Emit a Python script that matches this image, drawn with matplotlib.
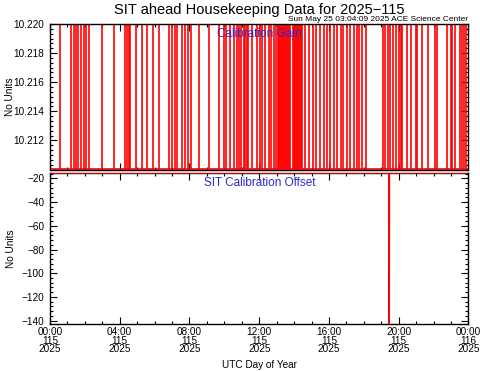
import matplotlib
matplotlib.use('Agg')
import matplotlib.pyplot as plt
from matplotlib.ticker import MultipleLocator, AutoMinorLocator, FixedLocator

plt.rcParams['font.family'] = ['Liberation Sans', 'DejaVu Sans']

# ---------------- data ----------------
# hours (UTC, day 115) at which the calibration gain toggles to its high value
gain_spike_hours = [
    0.545, 1.205, 1.348, 1.492, 1.606, 1.779, 1.922, 2.065, 2.255, 2.966,
    3.643, 4.291, 4.389, 4.504, 4.590, 4.905, 5.278, 5.565, 5.881, 6.271,
    6.845, 6.971, 7.143, 7.269, 7.573, 7.728, 7.900, 8.061, 8.520, 9.094,
    9.696, 9.954, 10.069, 10.327, 10.528, 10.700, 10.815, 10.930, 11.102,
    11.188, 11.274, 11.360, 11.561, 11.848, 12.048, 12.163, 12.335, 12.536,
    12.651, 12.851, 12.966, 13.052, 13.110, 13.167, 13.224, 13.282, 13.339,
    13.396, 13.454, 13.511, 13.568, 13.626, 13.683, 13.741, 13.913, 13.970,
    14.028, 14.085, 14.142, 14.200, 14.257, 14.314, 14.372, 14.429, 14.647,
    14.842, 15.106, 15.232, 15.491, 15.703, 15.892, 16.082, 16.277, 16.466,
    16.667, 16.793, 17.022, 17.229, 17.424, 17.596, 17.745, 17.900, 18.130,
    19.076, 19.220, 19.363, 19.489, 19.679, 19.834, 19.994, 20.121, 20.195,
    20.499, 20.694, 20.970, 21.056, 21.360, 21.687, 22.060, 22.203, 22.794,
    22.978, 23.064, 23.207, 23.494, 23.620, 23.723, 23.884,
]
gain_low = 10.2100
gain_high = 10.2203

offset_hours = [0.0, 19.44, 19.45, 19.46, 24.0]
offset_values = [-15.4, -15.4, -150.0, -15.4, -15.4]

x_tick_hours = [0, 4, 8, 12, 16, 20, 24]
x_tick_labels = ['00:00\n115\n2025', '04:00\n115\n2025', '08:00\n115\n2025',
                 '12:00\n115\n2025', '16:00\n115\n2025', '20:00\n115\n2025',
                 '00:00\n116\n2025']
gain_ticks = [10.212, 10.214, 10.216, 10.218, 10.220]
gain_tick_labels = ['10.212', '10.214', '10.216', '10.218', '10.220']
offset_ticks = [-20, -40, -60, -80, -100, -120, -140]
offset_tick_labels = ['\u221220', '\u221240', '\u221260', '\u221280',
                      '\u2212100', '\u2212120', '\u2212140']

# ---------------- figure ----------------
W, H = 481, 371
fig = plt.figure(figsize=(W / 100, H / 100), dpi=100)
fig.patch.set_facecolor('white')

def ax_rect(x0, y0, x1, y1):
    return [x0 / W, 1 - y1 / H, (x1 - x0) / W, (y1 - y0) / H]

AX_L, AX_R = 50, 468.5
ax1 = fig.add_axes(ax_rect(AX_L, 24, AX_R, 169.5))
ax2 = fig.add_axes(ax_rect(AX_L, 172.7, AX_R, 324))

red = '#ff0000'
blue = '#2a2ac8'
tick_fs = 7.2

# top panel
ax1.vlines(gain_spike_hours, gain_low, gain_high, colors=red, lw=1.2, zorder=2)
ax1.plot([0, 24], [gain_low, gain_low], color=red, lw=1.2, zorder=2)
ax1.set_xlim(0, 24)
ax1.set_ylim(10.2100, 10.2200)
ax1.yaxis.set_major_locator(FixedLocator(gain_ticks))
ax1.set_yticklabels(gain_tick_labels)
ax1.yaxis.set_minor_locator(AutoMinorLocator(6))
ax1.xaxis.set_major_locator(FixedLocator(x_tick_hours))
ax1.xaxis.set_minor_locator(MultipleLocator(1))
ax1.tick_params(labelbottom=False)
ax1.set_ylabel('No Units', fontsize=7.2)
ax1.yaxis.set_label_coords((15 - AX_L) / (AX_R - AX_L), 0.5)
ax1.text(0.5, 0.93, 'Calibration Gain', transform=ax1.transAxes,
         ha='center', va='center', color=blue, fontsize=8.5, zorder=5)

# bottom panel
ax2.plot(offset_hours, offset_values, color=red, lw=1.2, zorder=3, clip_on=True)
ax2.set_xlim(0, 24)
ax2.set_ylim(-142.8, -15.2)
ax2.yaxis.set_major_locator(FixedLocator(offset_ticks))
ax2.set_yticklabels(offset_tick_labels)
ax2.yaxis.set_minor_locator(AutoMinorLocator(5))
ax2.xaxis.set_major_locator(FixedLocator(x_tick_hours))
ax2.set_xticklabels(x_tick_labels, linespacing=0.85)
ax2.xaxis.set_minor_locator(MultipleLocator(1))
ax2.set_ylabel('No Units', fontsize=7.2)
ax2.yaxis.set_label_coords((16 - AX_L) / (AX_R - AX_L), 0.5)
ax2.text(0.5, 0.93, 'SIT Calibration Offset', transform=ax2.transAxes,
         ha='center', va='center', color=blue, fontsize=8.5, zorder=5)

for ax in (ax1, ax2):
    for s in ax.spines.values():
        s.set_linewidth(1.0)
        s.set_color('black')
    ax.tick_params(which='both', direction='in', top=True, right=True,
                   labelsize=tick_fs, width=0.8)
    ax.tick_params(which='major', length=5)
    ax.tick_params(which='minor', length=2.5)
    ax.tick_params(axis='y', which='both', pad=4)
    ax.tick_params(axis='x', which='both', pad=2)

fig.text((AX_L + AX_R) / 2 / W, 1 - 10 / H,
         'SIT ahead Housekeeping Data for 2025\u2212115',
         ha='center', va='center', fontsize=10.5)
fig.text(468 / W, 1 - 19.5 / H, 'Sun May 25 03:04:09 2025 ACE Science Center',
         ha='right', va='center', fontsize=6)
fig.text((AX_L + AX_R) / 2 / W, 1 - 365 / H, 'UTC Day of Year',
         ha='center', va='center', fontsize=7.2)

fig.savefig('out.png', dpi=100)
